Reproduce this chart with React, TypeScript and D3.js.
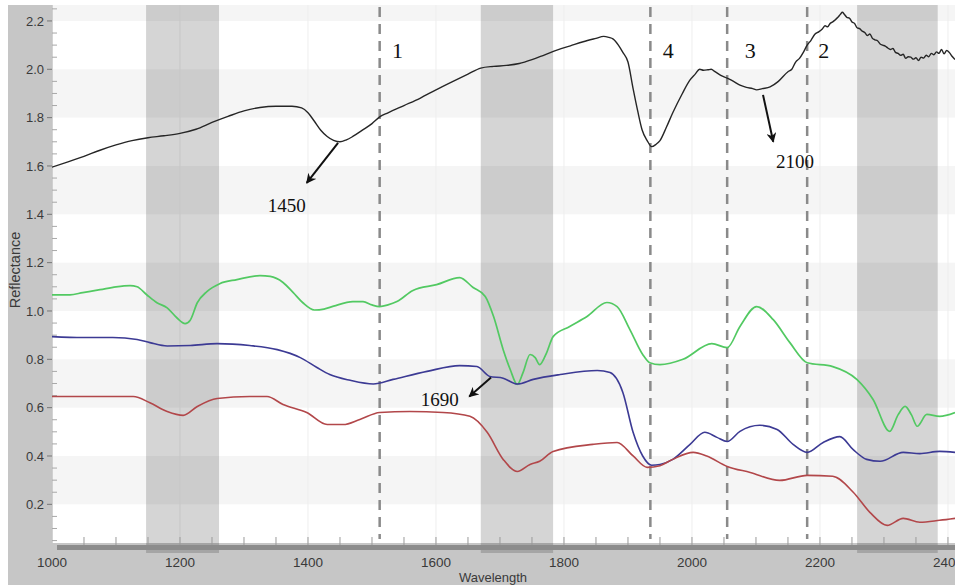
import React from "react";
import * as d3 from "d3";

// Spectral reflectance curves (wavelength in nm, reflectance)
const blackWl = [1000, 1025, 1050, 1075, 1100, 1125, 1150, 1175, 1200, 1225, 1250, 1275, 1300, 1325, 1350, 1375, 1390, 1400, 1410, 1420, 1430, 1440, 1450, 1460, 1470, 1485, 1500, 1512, 1525, 1550, 1575, 1600, 1625, 1650, 1670, 1690, 1710, 1730, 1750, 1770, 1790, 1810, 1830, 1850, 1862, 1870, 1877, 1885, 1892, 1900, 1908, 1915, 1922, 1930, 1937, 1944, 1950, 1960, 1970, 1985, 1997, 2005, 2012, 2018, 2025, 2030, 2036, 2045, 2055, 2065, 2075, 2085, 2095, 2101, 2110, 2122, 2135, 2150, 2156, 2162, 2168, 2174, 2180, 2186, 2192, 2198, 2204, 2208, 2212, 2216, 2220, 2224, 2228, 2232, 2235, 2238, 2242, 2246, 2250, 2254, 2258, 2262, 2266, 2270, 2274, 2278, 2282, 2286, 2290, 2294, 2298, 2302, 2306, 2310, 2314, 2318, 2322, 2326, 2330, 2334, 2338, 2342, 2346, 2350, 2354, 2358, 2362, 2366, 2370, 2374, 2378, 2382, 2386, 2390, 2394, 2398, 2402, 2406, 2411];
const blackRefl = [1.595, 1.617, 1.64, 1.665, 1.687, 1.705, 1.717, 1.725, 1.735, 1.752, 1.78, 1.805, 1.828, 1.842, 1.847, 1.847, 1.84, 1.82, 1.785, 1.748, 1.722, 1.706, 1.7, 1.708, 1.722, 1.748, 1.775, 1.803, 1.82, 1.85, 1.88, 1.915, 1.948, 1.98, 2.005, 2.012, 2.016, 2.024, 2.04, 2.06, 2.08, 2.097, 2.114, 2.128, 2.136, 2.132, 2.125, 2.1, 2.07, 2.03, 1.92, 1.83, 1.75, 1.705, 1.68, 1.69, 1.705, 1.76, 1.82, 1.9, 1.956, 1.98, 2.0, 1.996, 1.998, 2.0, 1.99, 1.975, 1.963, 1.95, 1.934, 1.925, 1.92, 1.915, 1.92, 1.927, 1.95, 1.99, 2.0, 2.03, 2.045, 2.07, 2.1, 2.12, 2.145, 2.155, 2.168, 2.18, 2.176, 2.19, 2.196, 2.205, 2.215, 2.228, 2.236, 2.228, 2.215, 2.212, 2.196, 2.19, 2.172, 2.168, 2.158, 2.152, 2.14, 2.146, 2.128, 2.122, 2.118, 2.105, 2.1, 2.096, 2.088, 2.082, 2.086, 2.07, 2.066, 2.058, 2.062, 2.045, 2.052, 2.05, 2.042, 2.048, 2.036, 2.05, 2.046, 2.058, 2.052, 2.066, 2.06, 2.072, 2.066, 2.082, 2.064, 2.078, 2.07, 2.055, 2.04];

const greenWl = [1000, 1028, 1048, 1075, 1100, 1122, 1133, 1148, 1164, 1180, 1195, 1208, 1216, 1227, 1242, 1262, 1289, 1325, 1341, 1361, 1377, 1392, 1410, 1425, 1440, 1470, 1486, 1500, 1512, 1525, 1539, 1564, 1601, 1637, 1658, 1677, 1690, 1705, 1716, 1727, 1736, 1747, 1755, 1762, 1773, 1783, 1809, 1836, 1867, 1883, 1903, 1923, 1934, 1950, 1986, 2031, 2055, 2075, 2101, 2127, 2153, 2180, 2220, 2258, 2283, 2309, 2322, 2333, 2343, 2352, 2367, 2387, 2411];
const greenRefl = [1.067, 1.067, 1.076, 1.088, 1.1, 1.105, 1.1, 1.067, 1.034, 1.013, 0.972, 0.948, 0.962, 1.034, 1.08, 1.113, 1.13, 1.146, 1.143, 1.118, 1.076, 1.034, 1.004, 1.008, 1.02, 1.039, 1.039, 1.025, 1.018, 1.025, 1.039, 1.085, 1.109, 1.138, 1.097, 1.06, 0.977, 0.84, 0.758, 0.696, 0.745, 0.82, 0.807, 0.778, 0.828, 0.894, 0.936, 0.977, 1.035, 1.018, 0.923, 0.82, 0.786, 0.778, 0.8, 0.865, 0.848, 0.936, 1.018, 0.964, 0.869, 0.786, 0.77, 0.716, 0.634, 0.502, 0.57, 0.605, 0.57, 0.523, 0.572, 0.564, 0.58];

const blueWl = [1000, 1048, 1095, 1133, 1153, 1180, 1216, 1258, 1309, 1352, 1388, 1414, 1434, 1466, 1502, 1533, 1586, 1637, 1664, 1684, 1705, 1727, 1752, 1794, 1852, 1872, 1892, 1908, 1923, 1937, 1950, 1970, 1997, 2020, 2039, 2055, 2075, 2106, 2133, 2158, 2180, 2205, 2231, 2252, 2273, 2294, 2330, 2356, 2387, 2411];
const blueRefl = [0.894, 0.89, 0.89, 0.882, 0.869, 0.855, 0.857, 0.865, 0.857, 0.84, 0.807, 0.766, 0.737, 0.713, 0.698, 0.717, 0.75, 0.774, 0.77, 0.729, 0.722, 0.698, 0.717, 0.737, 0.754, 0.745, 0.663, 0.498, 0.4, 0.362, 0.365, 0.386, 0.448, 0.498, 0.477, 0.46, 0.502, 0.527, 0.51, 0.448, 0.415, 0.456, 0.48, 0.426, 0.386, 0.378, 0.415, 0.41, 0.419, 0.415];

const redWl = [1000, 1048, 1127, 1153, 1180, 1205, 1227, 1258, 1309, 1336, 1361, 1398, 1430, 1455, 1481, 1512, 1559, 1611, 1653, 1680, 1705, 1727, 1747, 1762, 1783, 1845, 1883, 1908, 1930, 1950, 1970, 2002, 2023, 2055, 2091, 2137, 2180, 2220, 2252, 2278, 2305, 2330, 2356, 2387, 2411];
const redRefl = [0.646, 0.646, 0.646, 0.62, 0.584, 0.568, 0.605, 0.638, 0.646, 0.646, 0.613, 0.58, 0.53, 0.53, 0.551, 0.58, 0.584, 0.58, 0.564, 0.498, 0.386, 0.336, 0.365, 0.378, 0.419, 0.448, 0.456, 0.4, 0.353, 0.36, 0.386, 0.415, 0.4, 0.357, 0.332, 0.299, 0.32, 0.316, 0.25, 0.167, 0.113, 0.142, 0.126, 0.134, 0.142];

// Shaded absorption windows [start, end] in nm
const bandStarts = [1147, 1670, 2258];
const bandEnds = [1261, 1783, 2384];

// Dashed marker lines and their labels
const markerWl = [1512, 1935, 2055, 2180];
const markerLabels = ["1", "4", "3", "2"];
const markerLabelWl = [1540, 1963, 2091, 2206];

// Feature callouts: label, arrow start, arrow end, text anchor point
const calloutText = ["1450", "2100", "1690"];
const calloutFrom = [[1447, 1.696], [2111, 1.894], [1686, 0.725]];
const calloutTo = [[1398, 1.53], [2127, 1.70], [1652, 0.646]];
const calloutAt = [[1367, 1.41], [2161, 1.592], [1606, 0.605]];

const xTicks = [1000, 1200, 1400, 1600, 1800, 2000, 2200, 2400];
const yTicks = [0.2, 0.4, 0.6, 0.8, 1.0, 1.2, 1.4, 1.6, 1.8, 2.0, 2.2];
const stripeFrom = [0.2, 0.6, 1.0, 1.4, 1.8, 2.2];

const W = 955;
const H = 585;
const left = 52;
const right = 955;
const top = 5;
const bottom = 543;

export default function App() {
  const x = d3.scaleLinear().domain([1000, 2411]).range([left, right]);
  const y = d3.scaleLinear().domain([0.04, 2.266]).range([bottom, top]);

  const line = d3.line<number>().curve(d3.curveMonotoneX);

  const path = (wl: number[], r: number[]) =>
    line.x((_, i) => x(wl[i])).y((_, i) => y(r[i]))(wl) || "";

  const series = [
    { wl: blackWl, r: blackRefl, color: "#262626", w: 1.4 },
    { wl: greenWl, r: greenRefl, color: "#52c962", w: 1.7 },
    { wl: blueWl, r: blueRefl, color: "#3c3a94", w: 1.6 },
    { wl: redWl, r: redRefl, color: "#b2474a", w: 1.6 },
  ];

  const xMinor = d3.range(1050, 2411, 50);
  const yMinor = d3.range(0.05, 2.266, 0.05).filter(
    (v) => Math.abs(v * 5 - Math.round(v * 5)) > 0.01
  );

  const sans = "Arial, 'Liberation Sans', sans-serif";
  const serif = "'Times New Roman', 'Liberation Serif', serif";

  return (
    <svg
      width={W}
      height={H}
      style={{ position: "absolute", left: 0, top: 0, display: "block" }}
    >
      <defs>
        <marker
          id="arrowhead"
          viewBox="0 0 10 10"
          refX="9"
          refY="5"
          markerWidth="11"
          markerHeight="10"
          markerUnits="userSpaceOnUse"
          orient="auto"
        >
          <path d="M0,0 L10,5 L0,10 L3,5 z" fill="#111" />
        </marker>
        <clipPath id="plotClip">
          <rect x={left} y={top} width={right - left} height={bottom - top} />
        </clipPath>
      </defs>

      <rect x={0} y={0} width={W} height={H} fill="#ffffff" />
      <rect x={8} y={top} width={W - 8} height={H - top} fill="#c6c6c6" />

      {/* plot area with alternating horizontal stripes */}
      <rect x={left} y={top} width={right - left} height={bottom - top} fill="#ffffff" />
      {stripeFrom.map((v) => (
        <rect
          key={"s" + v}
          x={left}
          y={y(Math.min(v + 0.2, 2.266))}
          width={right - left}
          height={y(v) - y(Math.min(v + 0.2, 2.266))}
          fill="#f5f5f5"
        />
      ))}
      {xTicks.map((t) => (
        <line key={"g" + t} x1={x(t)} x2={x(t)} y1={top} y2={bottom} stroke="#eeeeee" strokeWidth={1} />
      ))}

      {/* shaded windows */}
      {bandStarts.map((s, i) => (
        <rect
          key={"b" + i}
          x={x(s)}
          y={top}
          width={x(bandEnds[i]) - x(s)}
          height={bottom - top + 10}
          fill="#000"
          fillOpacity={0.165}
        />
      ))}

      {/* axis bar and ticks */}
      <rect x={57} y={545} width={W - 57} height={5} fill="#8c8c8c" />
      {xMinor.map((t) => (
        <line key={"xm" + t} x1={x(t)} x2={x(t)} y1={537} y2={545} stroke="#9a9a9a" strokeWidth={1} />
      ))}
      <line x1={left} x2={left} y1={top} y2={bottom} stroke="#b0b0b0" strokeWidth={1} />
      {yMinor.map((v) => (
        <line key={"ym" + v.toFixed(2)} x1={left} x2={left + 5} y1={y(v)} y2={y(v)} stroke="#a8a8a8" strokeWidth={1} />
      ))}
      {yTicks.map((v) => (
        <g key={"yt" + v}>
          <line x1={left - 5} x2={left} y1={y(v)} y2={y(v)} stroke="#777" strokeWidth={1} />
          <text
            x={44}
            y={y(v)}
            dy="0.35em"
            textAnchor="end"
            fontFamily={sans}
            fontSize={13}
            fill="#3a3a3a"
          >
            {v.toFixed(1)}
          </text>
        </g>
      ))}
      {xTicks.map((t) => (
        <text
          key={"xt" + t}
          x={x(t)}
          y={567}
          textAnchor="middle"
          fontFamily={sans}
          fontSize={13.5}
          fill="#3a3a3a"
        >
          {t}
        </text>
      ))}
      <text x={493} y={582} textAnchor="middle" fontFamily={sans} fontSize={13} fill="#3a3a3a">
        Wavelength
      </text>
      <text
        transform="translate(20,270) rotate(-90)"
        textAnchor="middle"
        fontFamily={sans}
        fontSize={14.5}
        fill="#3a3a3a"
      >
        Reflectance
      </text>

      {/* dashed marker lines */}
      {markerWl.map((m, i) => (
        <g key={"m" + i}>
          <line
            x1={x(m)}
            x2={x(m)}
            y1={top + 2}
            y2={bottom - 4}
            stroke="#8a8a8a"
            strokeWidth={2.5}
            strokeDasharray="10,7"
          />
          <text
            x={x(markerLabelWl[i])}
            y={58}
            textAnchor="middle"
            fontFamily={serif}
            fontSize={22}
            fill="#111"
          >
            {markerLabels[i]}
          </text>
        </g>
      ))}

      {/* spectra */}
      <g clipPath="url(#plotClip)">
        {series.map((s, i) => (
          <path
            key={"p" + i}
            d={path(s.wl, s.r)}
            fill="none"
            stroke={s.color}
            strokeWidth={s.w}
            strokeLinejoin="round"
          />
        ))}
      </g>

      {/* callouts */}
      {calloutText.map((t, i) => (
        <g key={"c" + i}>
          <line
            x1={x(calloutFrom[i][0])}
            y1={y(calloutFrom[i][1])}
            x2={x(calloutTo[i][0])}
            y2={y(calloutTo[i][1])}
            stroke="#111"
            strokeWidth={2}
            markerEnd="url(#arrowhead)"
          />
          <text
            x={x(calloutAt[i][0])}
            y={y(calloutAt[i][1])}
            textAnchor="middle"
            fontFamily={serif}
            fontSize={19}
            fill="#111"
          >
            {t}
          </text>
        </g>
      ))}
    </svg>
  );
}
